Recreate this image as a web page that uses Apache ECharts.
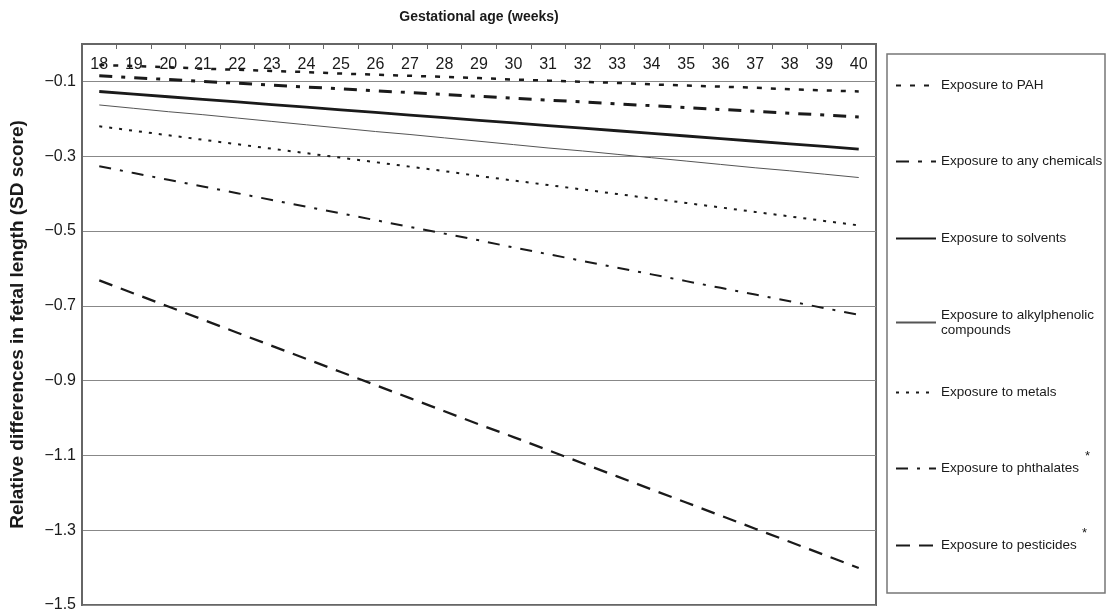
<!DOCTYPE html>
<html>
<head>
<meta charset="utf-8">
<script src="https://cdn.jsdelivr.net/npm/echarts@6/dist/echarts.min.js"></script>
<style>
  html, body { margin: 0; padding: 0; background: #fff; }
  #chart { width: 1107px; height: 613px; }
</style>
</head>
<body>
<div id="chart"></div>
<script>
const weeks = ['18', '19', '20', '21', '22', '23', '24', '25', '26', '27', '28', '29',
  '30', '31', '32', '33', '34', '35', '36', '37', '38', '39', '40'];

const pah = [-0.056, -0.059, -0.062, -0.066, -0.069, -0.072, -0.075, -0.079, -0.082, -0.085, -0.088, -0.091,
  -0.095, -0.098, -0.101, -0.104, -0.108, -0.111, -0.114, -0.117, -0.121, -0.124, -0.127];
const anyChemicals = [-0.085, -0.090, -0.095, -0.100, -0.105, -0.110, -0.115, -0.120, -0.125, -0.130, -0.135, -0.140,
  -0.145, -0.150, -0.155, -0.160, -0.165, -0.170, -0.175, -0.180, -0.185, -0.190, -0.195];
const solvents = [-0.127, -0.134, -0.141, -0.148, -0.155, -0.162, -0.169, -0.176, -0.183, -0.190, -0.197, -0.204,
  -0.211, -0.218, -0.225, -0.232, -0.239, -0.246, -0.253, -0.260, -0.267, -0.274, -0.281];
const alkylphenolic = [-0.163, -0.172, -0.181, -0.189, -0.198, -0.207, -0.216, -0.225, -0.234, -0.242, -0.251, -0.260,
  -0.269, -0.278, -0.286, -0.295, -0.304, -0.313, -0.322, -0.331, -0.339, -0.348, -0.357];
const metals = [-0.220, -0.232, -0.244, -0.256, -0.268, -0.280, -0.292, -0.304, -0.316, -0.328, -0.340, -0.353,
  -0.365, -0.377, -0.389, -0.401, -0.413, -0.425, -0.437, -0.449, -0.461, -0.473, -0.485];
const phthalates = [-0.327, -0.345, -0.363, -0.381, -0.399, -0.417, -0.435, -0.453, -0.471, -0.489, -0.507, -0.525,
  -0.544, -0.562, -0.580, -0.598, -0.616, -0.634, -0.652, -0.670, -0.688, -0.706, -0.724];
const pesticides = [-0.632, -0.667, -0.702, -0.737, -0.772, -0.807, -0.842, -0.877, -0.912, -0.947, -0.982, -1.017,
  -1.051, -1.086, -1.121, -1.156, -1.191, -1.226, -1.261, -1.296, -1.331, -1.366, -1.401];

const seriesNames = ['Exposure to PAH', 'Exposure to any chemicals', 'Exposure to solvents',
  'Exposure to alkylphenolic compounds', 'Exposure to metals', 'Exposure to phthalates', 'Exposure to pesticides'];
const seriesData = [pah, anyChemicals, solvents, alkylphenolic, metals, phthalates, pesticides];

// line looks, same order as the names
const lineLooks = [
  { width: 2.5, type: [5, 9] },
  { width: 3, type: [13, 9, 4, 9] },
  { width: 2.8, type: 'solid' },
  { width: 1, type: 'solid', color: '#555' },
  { width: 2, type: [3, 7] },
  { width: 2, type: [12, 9, 3, 9] },
  { width: 2.3, type: [14, 9] }
];

const font = 'Liberation Sans, Arial, sans-serif';
const ink = '#1a1a1a';
const legendCenters = [84, 160, 237, 314, 391, 467, 544];

const chart = echarts.init(document.getElementById('chart'));

const legends = seriesNames.map((name, i) => {
  const twoLines = i === 3;
  return {
    data: [name],
    orient: 'vertical',
    left: 895,
    top: twoLines ? legendCenters[i] - 14 : legendCenters[i] - 7,
    padding: 0,
    itemWidth: 40,
    itemHeight: 16,
    itemGap: 5,
    selectedMode: false,
    // hide the marker circle, keep the line sample
    itemStyle: { color: 'rgba(0,0,0,0)', borderWidth: 0, opacity: 0 },
    formatter: twoLines ? 'Exposure to alkylphenolic\ncompounds' : '{name}',
    textStyle: {
      fontFamily: font,
      fontSize: 13.5,
      color: ink,
      lineHeight: twoLines ? 15 : 17,
      padding: twoLines ? [15, 0, 0, 0] : 0
    }
  };
});

const option = {
  backgroundColor: '#fff',
  animation: false,
  grid: {
    left: 81,
    right: 231,
    top: 44,
    bottom: 5,
    show: true,
    borderColor: '#666',
    borderWidth: 2
  },
  legend: legends,
  xAxis: {
    type: 'category',
    position: 'top',
    data: weeks,
    boundaryGap: true,
    name: 'Gestational age (weeks)',
    nameLocation: 'middle',
    nameGap: 20,
    nameTextStyle: { fontFamily: font, fontSize: 14, fontWeight: 'bold', color: ink },
    axisLine: { show: true, lineStyle: { color: '#666', width: 2 } },
    axisTick: { show: true, inside: true, length: 5, lineStyle: { color: '#666' } },
    axisLabel: { inside: true, margin: 13, fontFamily: font, fontSize: 16, color: ink, interval: 0 },
    splitLine: { show: false }
  },
  yAxis: {
    type: 'value',
    min: -1.5,
    max: 0,
    interval: 0.2,
    name: 'Relative differences in fetal length (SD score)',
    nameLocation: 'middle',
    nameGap: 55,
    nameTextStyle: { fontFamily: font, fontSize: 19, fontWeight: 'bold', color: ink },
    axisLine: { show: true, lineStyle: { color: '#666', width: 2 } },
    axisTick: { show: false },
    axisLabel: {
      fontFamily: font,
      fontSize: 16,
      color: ink,
      margin: 6,
      showMaxLabel: false,
      formatter: (v) => (Math.abs(v) < 1e-9 ? '' : v.toFixed(1).replace('-', '\u2212'))
    },
    splitLine: { show: true, lineStyle: { color: '#888', width: 1.2 } }
  },
  graphic: [
    {
      type: 'rect',
      shape: { x: 887, y: 54, width: 218, height: 539 },
      style: { fill: 'none', stroke: '#777', lineWidth: 1.5 },
      silent: true
    },
    {
      type: 'text',
      x: 1085, y: 450,
      style: { text: '*', fontFamily: font, fontSize: 13, fill: ink },
      silent: true
    },
    {
      type: 'text',
      x: 1082, y: 527,
      style: { text: '*', fontFamily: font, fontSize: 13, fill: ink },
      silent: true
    }
  ],
  series: seriesNames.map((name, i) => ({
    name,
    type: 'line',
    data: seriesData[i],
    symbol: 'none',
    silent: true,
    itemStyle: { color: lineLooks[i].color || ink },
    lineStyle: {
      color: lineLooks[i].color || ink,
      width: lineLooks[i].width,
      type: lineLooks[i].type
    }
  }))
};

chart.setOption(option);
</script>
</body>
</html>
